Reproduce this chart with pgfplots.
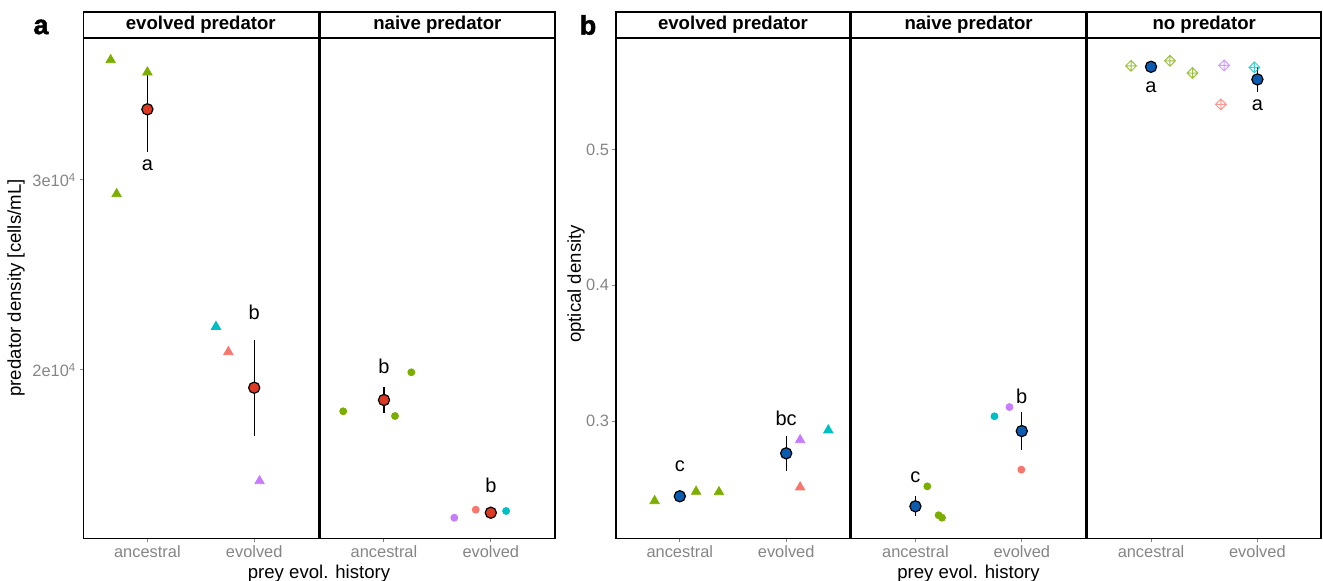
\documentclass[border=0pt]{standalone}
\usepackage{fontspec}
\setmainfont{Liberation Sans}
\newfontfamily\heavyfont[FakeBold=1.6]{Liberation Sans Bold}
\usepackage{pgfplots}
\pgfplotsset{compat=1.18}

\definecolor{pgreen}{HTML}{7CAE00}
\definecolor{pcyan}{HTML}{00BFC4}
\definecolor{psalmon}{HTML}{F8766D}
\definecolor{ppurple}{HTML}{C77CFF}
\definecolor{meanred}{HTML}{DD3A24}
\definecolor{meanblue}{HTML}{0B5CB0}
\definecolor{tickgray}{HTML}{858585}

% ggplot shape 9: open diamond with a cross inside
\pgfdeclareplotmark{diamondplus}{%
  \pgfpathmoveto{\pgfqpoint{0pt}{\pgfplotmarksize}}%
  \pgfpathlineto{\pgfqpoint{\pgfplotmarksize}{0pt}}%
  \pgfpathlineto{\pgfqpoint{0pt}{-\pgfplotmarksize}}%
  \pgfpathlineto{\pgfqpoint{-\pgfplotmarksize}{0pt}}%
  \pgfpathclose
  \pgfpathmoveto{\pgfqpoint{0pt}{\pgfplotmarksize}}%
  \pgfpathlineto{\pgfqpoint{0pt}{-\pgfplotmarksize}}%
  \pgfpathmoveto{\pgfqpoint{\pgfplotmarksize}{0pt}}%
  \pgfpathlineto{\pgfqpoint{-\pgfplotmarksize}{0pt}}%
  \pgfusepathqstroke
}

\tikzset{lab/.style={font=\fontsize{10}{12}\selectfont}}

\pgfplotsset{
  facet/.style n args={3}{
    scale only axis, width=#2, height=250.25pt,
    at={#1}, anchor=north west,
    xmin=0.4, xmax=2.6,
    xtick={1,2}, xticklabels={ancestral,evolved},
    axis line style={line width=0.8pt},
    tick style={tickgray, line width=0.5pt},
    tick align=outside, major tick length=1.8pt,
    xtick pos=left, ytick pos=left,
    tick label style={font=\fontsize{8.2}{9}\selectfont, text=tickgray, inner sep=1.5pt},
    scaled y ticks=false,
    clip=false,
    title={#3},
    every axis title/.style={at={(0.5,1)}, anchor=south, draw, line width=0.8pt,
      minimum width=#2, minimum height=13pt, inner sep=0pt, outer sep=0pt,
      font=\fontsize{9.3}{10}\selectfont\bfseries},
  },
  pts/.style={only marks, mark=*, mark size=1.75pt},
  tri/.style={only marks, mark=triangle*, mark size=2.7pt},
  dia/.style={only marks, mark=diamondplus, mark size=2.7pt,
    mark options={line width=0.5pt, draw opacity=0.75}},
  ebar/.style={only marks, mark=none, error bars/.cd, y dir=both, y explicit,
    error mark=none, error bar style={black, line width=0.6pt}},
  meanpt/.style={only marks, mark=*, mark size=2.8pt,
    mark options={fill=#1, draw=black, line width=0.6pt}},
}

\begin{document}
\begin{tikzpicture}
\path[use as bounding box] (0,0) rectangle (661.5pt,-290.5pt);

% ---------------- panel a ----------------
\begin{axis}[facet={(41.65pt,-19pt)}{117.5pt}{evolved predator},
  ymin=11132, ymax=37474,
  ytick={20000,30000},
  yticklabels={2e10\textsuperscript{4},3e10\textsuperscript{4}}]
  \addplot[tri, color=pgreen] coordinates {(0.656,36316) (1.0,35668) (0.712,29263)};
  \addplot[tri, color=pcyan] coordinates {(1.642,22279)};
  \addplot[tri, color=psalmon] coordinates {(1.758,20947)};
  \addplot[tri, color=ppurple] coordinates {(2.05,14158)};
  \addplot[ebar] coordinates {(1,33721) +- (0,2250) (2,19068) +- (0,2519)};
  \addplot[meanpt=meanred] coordinates {(1,33721) (2,19068)};
  \node[lab] at (axis cs:1,30753) {a};
  \node[lab] at (axis cs:2,23053) {b};
\end{axis}

\begin{axis}[facet={(159.95pt,-19pt)}{117.5pt}{naive predator},
  ymin=11132, ymax=37474, ytick=\empty]
  \addplot[pts, color=pgreen] coordinates {(0.618,17826) (1.103,17579) (1.256,19879)};
  \addplot[pts, color=ppurple] coordinates {(1.658,12226)};
  \addplot[pts, color=psalmon] coordinates {(1.859,12647)};
  \addplot[pts, color=pcyan] coordinates {(2.143,12579)};
  \addplot[ebar] coordinates {(1,18421) +- (0,700) (2,12489) +- (0,100)};
  \addplot[meanpt=meanred] coordinates {(1,18421) (2,12489)};
  \node[lab] at (axis cs:1,20211) {b};
  \node[lab] at (axis cs:2,13905) {b};
\end{axis}

% ---------------- panel b ----------------
\begin{axis}[facet={(308pt,-19pt)}{117pt}{evolved predator},
  ymin=0.2135, ymax=0.5820,
  ytick={0.3,0.4,0.5}, yticklabels={0.3,0.4,0.5}]
  \addplot[tri, color=pgreen] coordinates {(0.763,0.2411) (1.153,0.2480) (1.368,0.2477)};
  \addplot[tri, color=ppurple] coordinates {(2.131,0.2860)};
  \addplot[tri, color=psalmon] coordinates {(2.131,0.2512)};
  \addplot[tri, color=pcyan] coordinates {(2.396,0.2932)};
  \addplot[ebar] coordinates {(1,0.2446) +- (0,0.0005) (2,0.2762) +- (0,0.0128)};
  \addplot[meanpt=meanblue] coordinates {(1,0.2446) (2,0.2762)};
  \node[lab] at (axis cs:1,0.2664) {c};
  \node[lab] at (axis cs:2,0.3020) {bc};
\end{axis}

\begin{axis}[facet={(425.8pt,-19pt)}{117pt}{naive predator},
  ymin=0.2135, ymax=0.5820, ytick=\empty]
  \addplot[pts, color=pgreen] coordinates {(1.112,0.2519) (1.218,0.2306) (1.25,0.2288)};
  \addplot[pts, color=pcyan] coordinates {(1.743,0.3035)};
  \addplot[pts, color=ppurple] coordinates {(1.884,0.3103)};
  \addplot[pts, color=psalmon] coordinates {(1.996,0.2642)};
  \addplot[ebar] coordinates {(1,0.2372) +- (0,0.0074) (2,0.2926) +- (0,0.0139)};
  \addplot[meanpt=meanblue] coordinates {(1,0.2372) (2,0.2926)};
  \node[lab] at (axis cs:1,0.2584) {c};
  \node[lab] at (axis cs:2,0.3182) {b};
\end{axis}

\begin{axis}[facet={(543.6pt,-19pt)}{117pt}{no predator},
  ymin=0.2135, ymax=0.5820, ytick=\empty]
  \addplot[dia, color=pgreen] coordinates {(0.812,0.5615) (1.178,0.5652) (1.39,0.5562)};
  \addplot[dia, color=ppurple] coordinates {(1.687,0.5618)};
  \addplot[dia, color=psalmon] coordinates {(1.656,0.5331)};
  \addplot[dia, color=pcyan] coordinates {(1.972,0.5604)};
  \addplot[ebar] coordinates {(1,0.5608) +- (0,0.0005) (2,0.5515) +- (0,0.0092)};
  \addplot[meanpt=meanblue] coordinates {(1,0.5608) (2,0.5515)};
  \node[lab] at (axis cs:1,0.5461) {a};
  \node[lab] at (axis cs:2,0.5325) {a};
\end{axis}

% titles and panel letters
\node[font=\fontsize{13.5}{14}\selectfont\heavyfont] at (20.5pt,-13.5pt) {a};
\node[font=\fontsize{13.5}{14}\selectfont\heavyfont] at (294pt,-12.5pt) {b};
\node[rotate=90, font=\fontsize{9.3}{11}\selectfont] at (8pt,-144pt) {predator density [cells/mL]};
\node[rotate=90, font=\fontsize{9.3}{11}\selectfont] at (288pt,-142pt) {optical density};
\node[anchor=base, font=\fontsize{9.3}{11}\selectfont] at (159.5pt,-289.3pt) {prey evol. history};
\node[anchor=base, font=\fontsize{9.3}{11}\selectfont] at (484.25pt,-289.3pt) {prey evol. history};
\end{tikzpicture}
\end{document}
